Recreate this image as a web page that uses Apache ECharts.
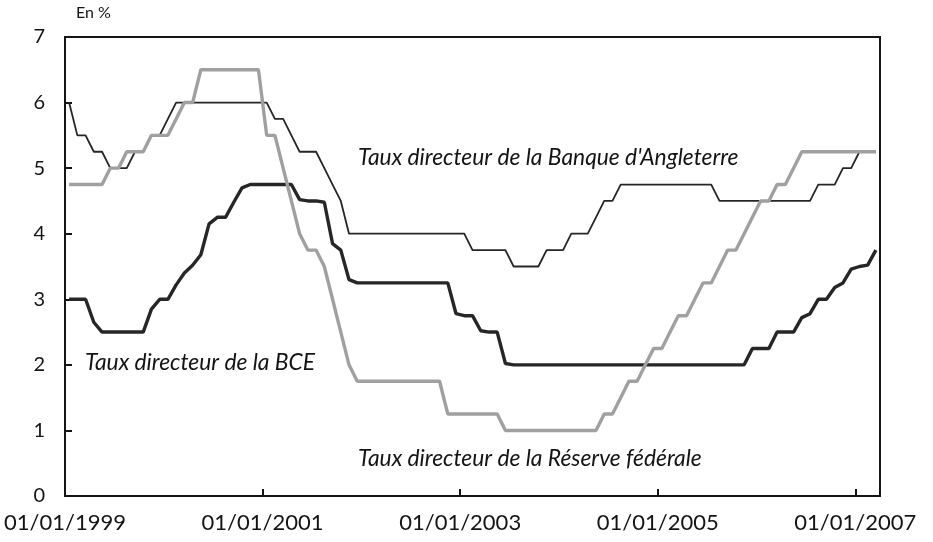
<!DOCTYPE html>
<html>
<head>
<meta charset="utf-8">
<script src="https://cdn.jsdelivr.net/npm/echarts@6/dist/echarts.min.js"></script>
<style>html,body{margin:0;padding:0;background:#fff}#c{width:933px;height:542px}</style>
</head>
<body>
<div id="c"></div>
<script>
// Monthly values, January 1999 -> March 2007 (one value per month)
var startYear = 1999;
var xTickYears = [1999, 2001, 2003, 2005, 2007];

var boe = [
  6.0, 5.5, 5.5, 5.25, 5.25, 5.0, 5.0, 5.0, 5.25, 5.25, 5.5, 5.5,          // 1999
  5.75, 6.0, 6.0, 6.0, 6.0, 6.0, 6.0, 6.0, 6.0, 6.0, 6.0, 6.0,            // 2000
  6.0, 5.75, 5.75, 5.5, 5.25, 5.25, 5.25, 5.0, 4.75, 4.5, 4.0, 4.0,       // 2001
  4.0, 4.0, 4.0, 4.0, 4.0, 4.0, 4.0, 4.0, 4.0, 4.0, 4.0, 4.0,             // 2002
  4.0, 3.75, 3.75, 3.75, 3.75, 3.75, 3.5, 3.5, 3.5, 3.5, 3.75, 3.75,      // 2003
  3.75, 4.0, 4.0, 4.0, 4.25, 4.5, 4.5, 4.75, 4.75, 4.75, 4.75, 4.75,      // 2004
  4.75, 4.75, 4.75, 4.75, 4.75, 4.75, 4.75, 4.5, 4.5, 4.5, 4.5, 4.5,      // 2005
  4.5, 4.5, 4.5, 4.5, 4.5, 4.5, 4.5, 4.75, 4.75, 4.75, 5.0, 5.0,          // 2006
  5.25, 5.25, 5.25                                                        // 2007
];

var bce = [
  3.0, 3.0, 3.0, 2.65, 2.5, 2.5, 2.5, 2.5, 2.5, 2.5, 2.85, 3.0,           // 1999
  3.0, 3.22, 3.4, 3.52, 3.68, 4.15, 4.25, 4.25, 4.48, 4.7, 4.75, 4.75,    // 2000
  4.75, 4.75, 4.75, 4.75, 4.52, 4.5, 4.5, 4.48, 3.85, 3.75, 3.3, 3.25,    // 2001
  3.25, 3.25, 3.25, 3.25, 3.25, 3.25, 3.25, 3.25, 3.25, 3.25, 3.25, 2.78, // 2002
  2.75, 2.75, 2.52, 2.5, 2.5, 2.02, 2.0, 2.0, 2.0, 2.0, 2.0, 2.0,         // 2003
  2.0, 2.0, 2.0, 2.0, 2.0, 2.0, 2.0, 2.0, 2.0, 2.0, 2.0, 2.0,             // 2004
  2.0, 2.0, 2.0, 2.0, 2.0, 2.0, 2.0, 2.0, 2.0, 2.0, 2.0, 2.25,            // 2005
  2.25, 2.25, 2.5, 2.5, 2.5, 2.72, 2.78, 3.0, 3.0, 3.18, 3.25, 3.46,      // 2006
  3.5, 3.52, 3.75                                                         // 2007
];

var fed = [
  4.75, 4.75, 4.75, 4.75, 4.75, 5.0, 5.0, 5.25, 5.25, 5.25, 5.5, 5.5,     // 1999
  5.5, 5.75, 6.0, 6.0, 6.5, 6.5, 6.5, 6.5, 6.5, 6.5, 6.5, 6.5,            // 2000
  5.5, 5.5, 5.0, 4.5, 4.0, 3.75, 3.75, 3.5, 3.0, 2.5, 2.0, 1.75,          // 2001
  1.75, 1.75, 1.75, 1.75, 1.75, 1.75, 1.75, 1.75, 1.75, 1.75, 1.25, 1.25, // 2002
  1.25, 1.25, 1.25, 1.25, 1.25, 1.0, 1.0, 1.0, 1.0, 1.0, 1.0, 1.0,        // 2003
  1.0, 1.0, 1.0, 1.0, 1.0, 1.25, 1.25, 1.5, 1.75, 1.75, 2.0, 2.25,        // 2004
  2.25, 2.5, 2.75, 2.75, 3.0, 3.25, 3.25, 3.5, 3.75, 3.75, 4.0, 4.25,     // 2005
  4.5, 4.5, 4.75, 4.75, 5.0, 5.25, 5.25, 5.25, 5.25, 5.25, 5.25, 5.25,    // 2006
  5.25, 5.25, 5.25                                                        // 2007
];

var labelBoe = "Taux directeur de la Banque d'Angleterre";
var labelBce = "Taux directeur de la BCE";
var labelFed = "Taux directeur de la Réserve fédérale";
var unitLabel = "En %";

function toPoints(arr) {
  // each monthly value placed at the middle of its month (x in months since Jan 1999)
  return arr.map(function (v, i) { return [i + 0.5, v]; });
}

var FONT = 'Lato, "Open Sans", sans-serif';
var INK = '#141414';
var chart = echarts.init(document.getElementById('c'), null, {renderer: 'canvas'});
chart.setOption({
  animation: false,
  backgroundColor: '#fff',
  grid: {left: 65, right: 53, top: 37, bottom: 46, show: true, borderColor: INK, borderWidth: 2, backgroundColor: 'transparent'},
  xAxis: {
    type: 'value', min: 0, max: 99, interval: 24,
    axisLine: {show: true, lineStyle: {color: INK, width: 2}},
    axisTick: {show: true, inside: true, length: 7, lineStyle: {color: INK, width: 2}},
    splitLine: {show: false},
    axisLabel: {
      margin: 16, color: INK, fontSize: 22, fontFamily: FONT,
      showMaxLabel: false,
      formatter: function (v) {
        if (v % 24 !== 0) return '';
        var y = startYear + v / 12;
        return xTickYears.indexOf(y) >= 0 ? '01/01/' + y : '';
      }
    }
  },
  yAxis: {
    type: 'value', min: 0, max: 7, interval: 1,
    axisLine: {show: true, lineStyle: {color: INK, width: 2}},
    axisTick: {show: true, inside: true, length: 7, lineStyle: {color: INK, width: 2}},
    splitLine: {show: false},
    axisLabel: {margin: 20, color: INK, fontSize: 20, fontFamily: FONT}
  },
  series: [
    {name: 'boe', type: 'line', data: toPoints(boe), symbol: 'none', z: 2,
     lineStyle: {color: '#262626', width: 1.8}},
    {name: 'bce', type: 'line', data: toPoints(bce), symbol: 'none', z: 3,
     lineStyle: {color: '#262626', width: 3.4}},
    {name: 'fed', type: 'line', data: toPoints(fed), symbol: 'none', z: 4,
     lineStyle: {color: '#a0a0a0', width: 3.4}}
  ],
  graphic: [
    {type: 'text', left: 76, top: 5, style: {text: unitLabel, fontSize: 16, fontFamily: FONT, fill: INK}},
    {type: 'text', left: 358, top: 146, style: {text: labelBoe, fontSize: 22.8, fontStyle: 'italic', fontFamily: FONT, fill: INK}},
    {type: 'text', left: 85, top: 351, style: {text: labelBce, fontSize: 22.8, fontStyle: 'italic', fontFamily: FONT, fill: INK}},
    {type: 'text', left: 358, top: 447, style: {text: labelFed, fontSize: 22.8, fontStyle: 'italic', fontFamily: FONT, fill: INK}}
  ]
});
</script>
</body>
</html>
